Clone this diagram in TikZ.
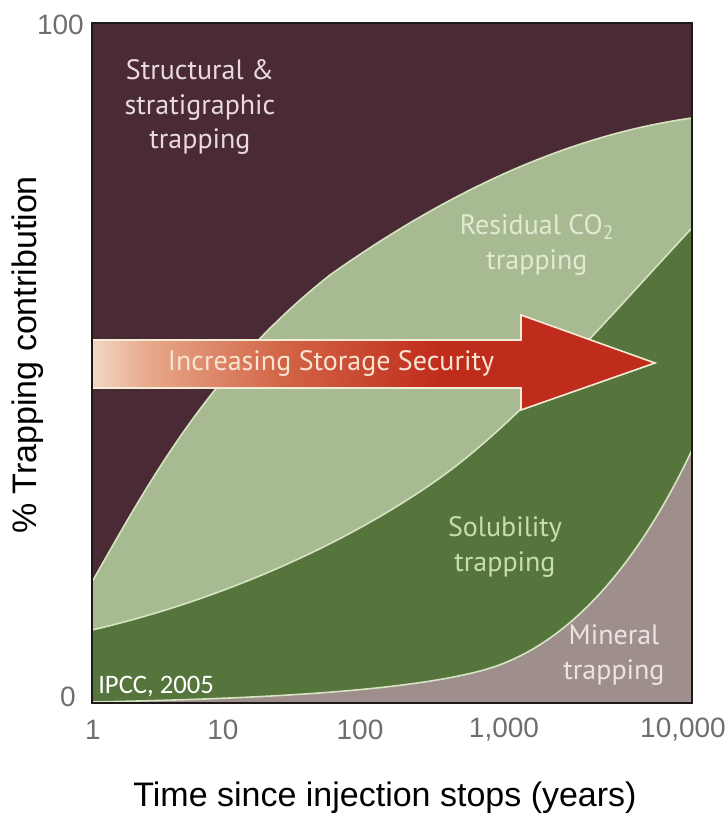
\documentclass[tikz,border=0pt]{standalone}
\usepackage{fontspec}
\newfontfamily\axisfont{Liberation Sans}
\newfontfamily\zonefont{PT Sans}
\newfontfamily\notefont{Carlito}
\usepackage{xcolor}

\definecolor{structural}{RGB}{74,42,52}
\definecolor{residual}{RGB}{168,186,146}
\definecolor{solubility}{RGB}{86,117,60}
\definecolor{mineral}{RGB}{158,143,140}
\definecolor{boundary}{RGB}{215,228,195}
\definecolor{structtext}{RGB}{232,218,222}
\definecolor{residtext}{RGB}{225,235,210}
\definecolor{solubtext}{RGB}{200,222,170}
\definecolor{mineraltext}{RGB}{236,228,226}
\definecolor{arrowtext}{RGB}{248,228,210}
\definecolor{arrowline}{RGB}{245,235,215}
\definecolor{arrowpale}{RGB}{242,216,198}
\definecolor{arrowpeach}{RGB}{232,168,138}
\definecolor{arrowmid}{RGB}{210,100,70}
\definecolor{arrowred}{RGB}{192,44,28}
\definecolor{tickgray}{RGB}{110,110,110}
\definecolor{framecol}{RGB}{30,26,26}

\pgfdeclarehorizontalshading{security}{100bp}{color(0bp)=(arrowpale); color(25bp)=(arrowpale); color(30bp)=(arrowpeach); color(42bp)=(arrowmid); color(56bp)=(arrowred); color(100bp)=(arrowred)}

\tikzset{
  zone/.style = {draw=boundary, line width=1.2pt, line join=round},
  zonelabel/.style = {font=\zonefont\fontsize{21}{26}\selectfont, align=center},
  tick/.style = {font=\axisfont\fontsize{21}{24}\selectfont, text=tickgray, inner sep=0pt},
  axistitle/.style = {font=\axisfont\fontsize{25.5}{28}\selectfont, text=black, inner sep=0pt}
}

\begin{document}
\begin{tikzpicture}[x=0.75pt,y=-0.75pt]

  \useasboundingbox (0,0) rectangle (728,818);

  % stacked trapping zones, log time axis
  \begin{scope}
    \clip (92,23) rectangle (692,703);
    \fill[structural] (92,23) rectangle (692,703);
    \draw[zone, fill=residual] (92,582) .. controls (150,480) and (210,370) .. (330,275)
      .. controls (450,190) and (570,135) .. (692,118) -- (700,118) -- (700,710) -- (85,710) -- cycle;
    \draw[zone, fill=solubility] (92,630) .. controls (200,605) and (330,555) .. (437,480)
      .. controls (520,422) and (620,305) .. (692,228) -- (700,228) -- (700,710) -- (85,710) -- cycle;
    \draw[zone, fill=mineral] (92,702) .. controls (250,699) and (400,692) .. (480,671)
      .. controls (570,648) and (640,560) .. (692,450) -- (700,450) -- (700,710) -- (85,710) -- cycle;
  \end{scope}

  % arrow
  \shadedraw[shading=security, draw=arrowline, line width=1.2pt] (92,340) -- (521,340) -- (521,315) -- (655,363) -- (521,410) -- (521,388) -- (92,388) -- cycle;
  \node[font=\zonefont\fontsize{21}{24}\selectfont, text=arrowtext] (security) at (331,363) {Increasing Storage Security};

  \draw[framecol, line width=1.5pt] (92,23) rectangle (692,703);

  \node[zonelabel, text=structtext] (structural) at (200,107) {Structural \&\\stratigraphic\\trapping};
  \node[zonelabel, text=residtext] (residual) at (537,245) {Residual CO\textsubscript{2}\\trapping};
  \node[zonelabel, text=solubtext] (solubility) at (505,547) {Solubility\\trapping};
  \node[zonelabel, text=mineraltext] (mineral) at (614,655) {Mineral\\trapping};
  \node[font=\notefont\fontsize{20}{22}\selectfont, text=white, anchor=base west, inner sep=0pt] (source) at (98,693) {IPCC, 2005};

  % axes
  \node[tick, anchor=east] (y100) at (84,25) {100};
  \node[tick] (y0) at (68,697) {0};
  \node[tick] (x1) at (93,730) {1};
  \node[tick] (x10) at (223,730) {10};
  \node[tick] (x100) at (360,730) {100};
  \node[tick] (x1000) at (504,730) {1,000};
  \node[tick] (x10000) at (683,730) {10,000};

  \node[axistitle] (xtitle) at (385,798) {Time since injection stops (years)};
  \node[axistitle, rotate=90] (ytitle) at (28,355) {\% Trapping contribution};
\end{tikzpicture}
\end{document}
